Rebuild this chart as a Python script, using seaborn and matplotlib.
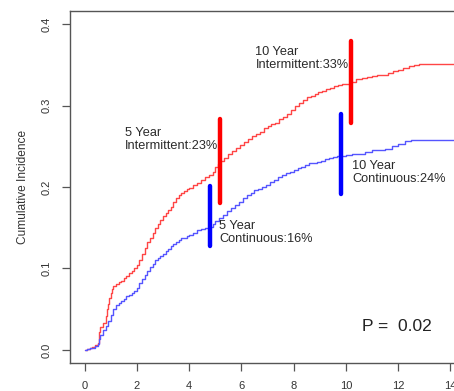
import matplotlib
matplotlib.use("Agg")
import matplotlib.pyplot as plt
import seaborn as sns
import pandas as pd

# Cumulative incidence estimates, intermittent group
t_inter = [0, 0.1, 0.2, 0.3, 0.4, 0.5, 0.55, 0.6, 0.7, 0.8, 0.85, 0.9, 0.95, 1.0,
           1.05, 1.1, 1.2, 1.3, 1.4, 1.5, 1.6, 1.7, 1.8, 1.9, 2.0, 2.1, 2.2, 2.3,
           2.4, 2.5, 2.6, 2.7, 2.8, 2.9, 3.0, 3.1, 3.2, 3.3, 3.4, 3.5, 3.6, 3.7,
           3.8, 3.9, 4.0, 4.15, 4.3, 4.45, 4.6, 4.75, 4.9, 5.0, 5.1, 5.2, 5.35,
           5.5, 5.65, 5.8, 5.95, 6.1, 6.25, 6.4, 6.55, 6.7, 6.85, 7.0, 7.15, 7.3,
           7.45, 7.6, 7.75, 7.9, 8.05, 8.2, 8.35, 8.5, 8.65, 8.8, 8.95, 9.1, 9.25,
           9.4, 9.55, 9.7, 9.85, 10.0, 10.2, 10.4, 10.6, 10.8, 11.0, 11.2, 11.4,
           11.6, 11.8, 12.0, 12.2, 12.4, 12.6, 12.8, 14.6]
ci_inter = [0, 0.001, 0.002, 0.004, 0.006, 0.008, 0.022, 0.028, 0.033, 0.042, 0.05,
            0.057, 0.064, 0.07, 0.075, 0.078, 0.081, 0.083, 0.085, 0.088, 0.091,
            0.094, 0.097, 0.1, 0.104, 0.111, 0.118, 0.125, 0.132, 0.138, 0.144,
            0.15, 0.155, 0.16, 0.164, 0.168, 0.172, 0.176, 0.181, 0.186, 0.19,
            0.193, 0.195, 0.197, 0.199, 0.202, 0.205, 0.209, 0.212, 0.215, 0.219,
            0.224, 0.228, 0.232, 0.236, 0.24, 0.244, 0.248, 0.251, 0.255, 0.259,
            0.262, 0.265, 0.268, 0.272, 0.275, 0.277, 0.279, 0.283, 0.286, 0.29,
            0.294, 0.299, 0.303, 0.307, 0.31, 0.312, 0.314, 0.316, 0.318, 0.32,
            0.322, 0.324, 0.325, 0.326, 0.327, 0.329, 0.332, 0.334, 0.335, 0.336,
            0.337, 0.338, 0.34, 0.342, 0.344, 0.346, 0.348, 0.35, 0.351, 0.351]

# Cumulative incidence estimates, continuous group
t_cont = [0, 0.1, 0.2, 0.3, 0.4, 0.5, 0.55, 0.6, 0.7, 0.8, 0.9, 1.0, 1.1, 1.2,
          1.3, 1.4, 1.5, 1.6, 1.7, 1.8, 1.9, 2.0, 2.1, 2.2, 2.3, 2.4, 2.5, 2.6,
          2.7, 2.8, 2.9, 3.0, 3.1, 3.2, 3.3, 3.4, 3.5, 3.6, 3.7, 3.8, 3.9, 4.0,
          4.15, 4.3, 4.45, 4.6, 4.75, 4.9, 5.0, 5.15, 5.3, 5.45, 5.6, 5.75, 5.9,
          6.05, 6.2, 6.35, 6.5, 6.65, 6.8, 6.95, 7.1, 7.25, 7.4, 7.55, 7.7, 7.85,
          8.0, 8.15, 8.3, 8.45, 8.6, 8.75, 8.9, 9.05, 9.2, 9.35, 9.5, 9.65, 9.8,
          10.0, 10.25, 10.5, 10.75, 11.0, 11.25, 11.5, 11.75, 12.0, 12.25, 12.5,
          14.6]
ci_cont = [0, 0.001, 0.002, 0.003, 0.005, 0.007, 0.013, 0.018, 0.024, 0.03, 0.036,
           0.043, 0.05, 0.055, 0.058, 0.06, 0.063, 0.066, 0.068, 0.07, 0.072,
           0.076, 0.082, 0.087, 0.092, 0.097, 0.102, 0.106, 0.11, 0.113, 0.115,
           0.118, 0.121, 0.124, 0.127, 0.13, 0.133, 0.135, 0.137, 0.138, 0.14,
           0.141, 0.144, 0.147, 0.149, 0.15, 0.151, 0.154, 0.158, 0.162, 0.166,
           0.17, 0.174, 0.178, 0.182, 0.186, 0.19, 0.193, 0.196, 0.198, 0.2,
           0.203, 0.206, 0.209, 0.212, 0.215, 0.217, 0.219, 0.221, 0.223, 0.225,
           0.227, 0.229, 0.23, 0.231, 0.232, 0.234, 0.236, 0.237, 0.238, 0.238,
           0.239, 0.24, 0.241, 0.243, 0.245, 0.246, 0.247, 0.25, 0.253, 0.256,
           0.258, 0.258]

# Confidence intervals at 5 and 10 years
ci_x_inter = [5.2, 10.2]
ci_lo_inter = [0.180, 0.278]
ci_hi_inter = [0.284, 0.379]
ci_x_cont = [4.8, 9.8]
ci_lo_cont = [0.128, 0.192]
ci_hi_cont = [0.201, 0.290]

x_ticks = [0, 2, 4, 6, 8, 10, 12, 14]
y_ticks = [0.0, 0.1, 0.2, 0.3, 0.4]
y_tick_labels = ["0.0", "0.1", "0.2", "0.3", "0.4"]

annotations = [
    (1.53, 0.2585, "5 Year\nIntermittent:23%"),
    (6.54, 0.358, "10 Year\nIntermittent:33%"),
    (10.25, 0.218, "10 Year\nContinuous:24%"),
    (5.16, 0.1445, "5 Year\nContinuous:16%"),
]
p_text = "P =  0.02"

sns.set_style("white")
plt.rcParams["font.family"] = ["Liberation Sans", "DejaVu Sans"]

fig = plt.figure(figsize=(4.54, 3.91), dpi=100)
W, H = 454, 391
ax = fig.add_axes([70 / W, (H - 363) / H, (465 - 70) / W, (363 - 11) / H])

df_i = pd.DataFrame({"t": t_inter, "ci": ci_inter})
df_c = pd.DataFrame({"t": t_cont, "ci": ci_cont})
sns.lineplot(data=df_i, x="t", y="ci", ax=ax, color="#ff4545", lw=1.0,
             drawstyle="steps-post", estimator=None)
sns.lineplot(data=df_c, x="t", y="ci", ax=ax, color="#5555ff", lw=1.0,
             drawstyle="steps-post", estimator=None)

ax.vlines(ci_x_inter, ci_lo_inter, ci_hi_inter, colors="#ff0000", lw=3.2,
          capstyle="round", zorder=3)
ax.vlines(ci_x_cont, ci_lo_cont, ci_hi_cont, colors="#0000ff", lw=3.2,
          capstyle="round", zorder=3)

for x, y, s in annotations:
    ax.text(x, y, s, ha="left", va="center", fontsize=9.2, color="#2a2a2a",
            linespacing=1.15)
ax.text(10.6, 0.029, p_text, ha="left", va="center", fontsize=12.5, color="#222222")

ax.set_xlim(-0.56, 14.56)
ax.set_ylim(-0.016, 0.416)
ax.set_xticks(x_ticks)
ax.set_yticks(y_ticks)
ax.set_yticklabels(y_tick_labels, rotation=90, va="center")
ax.set_xlabel("")
ax.set_ylabel("Cumulative Incidence", fontsize=8.6, color="#333333", labelpad=9)

for sp in ax.spines.values():
    sp.set_visible(True)
    sp.set_color("#555555")
    sp.set_linewidth(1.0)
ax.tick_params(axis="both", which="both", direction="out", length=6, width=0.9,
               color="#555555", labelsize=8, labelcolor="#333333", pad=7,
               bottom=True, left=True, top=False, right=False)

fig.savefig("out.png", dpi=100)
